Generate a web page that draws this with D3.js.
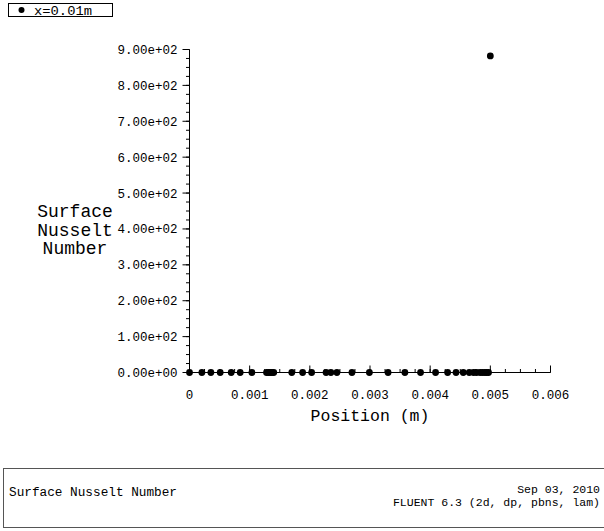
<!DOCTYPE html>
<html><head><meta charset="utf-8">
<script src="https://cdn.jsdelivr.net/npm/d3@7"></script>
<style>
body{margin:0;background:#fff;}
text{font-family:"Liberation Mono","DejaVu Sans Mono",monospace;fill:#000;}
</style></head>
<body><svg id="chart" width="604" height="531"></svg>
<script>
const positions = [0, 0.000206, 0.000355, 0.00051, 0.000693, 0.000842, 0.001037, 0.00128, 0.00131, 0.00134, 0.00137, 0.0014, 0.0017, 0.00188, 0.00203, 0.00227, 0.00235, 0.00245, 0.0027, 0.00299, 0.0033, 0.00358, 0.00384, 0.00409, 0.00429, 0.00443, 0.00455, 0.00465, 0.00472, 0.00477, 0.00483, 0.00487, 0.00491, 0.00494, 0.00497, 0.005];
const nusselt = [0,0,0,0,0,0,0,0,0,0,0,0,0,0,0,0,0,0,0,0,0,0,0,0,0,0,0,0,0,0,0,0,0,0,0,882];
const xTicks = [0, 0.001, 0.002, 0.003, 0.004, 0.005, 0.006];
const xTickLabels = ["0", "0.001", "0.002", "0.003", "0.004", "0.005", "0.006"];
const yTicks = [0, 100, 200, 300, 400, 500, 600, 700, 800, 900];
const yTickLabels = ["0.00e+00","1.00e+02","2.00e+02","3.00e+02","4.00e+02","5.00e+02","6.00e+02","7.00e+02","8.00e+02","9.00e+02"];
const legendLabel = "x=0.01m";
const yTitle = ["Surface", "Nusselt", "Number"];
const xTitle = "Position (m)";
const footerLeft = "Surface Nusselt Number";
const footerRight = ["Sep 03, 2010", "FLUENT 6.3 (2d, dp, pbns, lam)"];

const svg = d3.select("#chart");
const x = d3.scaleLinear().domain([0, 0.006]).range([189.5, 550.5]);
const y = d3.scaleLinear().domain([0, 900]).range([372.5, 49.5]);

const xMinor = d3.range(0, 0.006 + 1e-9, 0.00025);
const yMinor = d3.range(0, 900 + 1e-6, 25);

// X axis (ticks upward)
const gx = svg.append("g").attr("transform", `translate(0,${y(0)})`);
gx.append("line").attr("x1", x(0)).attr("x2", x(0.006)).attr("stroke", "#000");
gx.selectAll("line.minor").data(xMinor).join("line").attr("class","minor")
  .attr("x1", d => x(d)).attr("x2", d => x(d)).attr("y1", 0).attr("y2", -3.5).attr("stroke", "#000");
gx.selectAll("line.major").data(xTicks).join("line").attr("class","major")
  .attr("x1", d => x(d)).attr("x2", d => x(d)).attr("y1", 0).attr("y2", -7).attr("stroke", "#000");
gx.selectAll("text").data(xTicks).join("text")
  .attr("x", d => x(d)).attr("y", 26).attr("text-anchor", "middle")
  .attr("font-size", 12.5)
  .text((d, i) => xTickLabels[i]);

// Y axis (ticks left)
const gy = svg.append("g").attr("transform", `translate(${x(0)},0)`);
gy.append("line").attr("y1", y(0)).attr("y2", y(900)).attr("stroke", "#000");
gy.selectAll("line.minor").data(yMinor).join("line").attr("class","minor")
  .attr("y1", d => y(d)).attr("y2", d => y(d)).attr("x1", 0).attr("x2", -3.5).attr("stroke", "#000");
gy.selectAll("line.major").data(yTicks).join("line").attr("class","major")
  .attr("y1", d => y(d)).attr("y2", d => y(d)).attr("x1", 0).attr("x2", -7).attr("stroke", "#000");
gy.selectAll("text").data(yTicks).join("text")
  .attr("x", -12).attr("y", d => y(d) + 4.5).attr("text-anchor", "end")
  .attr("font-size", 12.5)
  .text((d, i) => yTickLabels[i]);

// Axis titles
svg.selectAll("text.ytitle").data(yTitle).join("text").attr("class","ytitle")
  .attr("x", 75).attr("y", (d, i) => 217 + i * 18.5).attr("text-anchor", "middle")
  .attr("font-size", 18).text(d => d);
svg.append("text").attr("x", x(0.003)).attr("y", 421).attr("text-anchor", "middle")
  .attr("font-size", 16.5).text(xTitle);

// Points
svg.selectAll("circle.pt").data(positions).join("circle").attr("class","pt")
  .attr("cx", d => x(d)).attr("cy", (d, i) => y(nusselt[i])).attr("r", 3.4).attr("fill", "#000");

// Legend
svg.append("rect").attr("x", 8.5).attr("y", 3.5).attr("width", 104).attr("height", 13)
  .attr("fill", "none").attr("stroke", "#000");
svg.append("circle").attr("cx", 21.5).attr("cy", 10).attr("r", 3).attr("fill", "#000");
svg.append("text").attr("x", 34).attr("y", 14.5).attr("font-size", 12)
  .attr("textLength", 58).attr("lengthAdjust", "spacingAndGlyphs").text(legendLabel);

// Footer box
svg.append("rect").attr("x", 3.5).attr("y", 468.5).attr("width", 610).attr("height", 59)
  .attr("fill", "none").attr("stroke", "#555");
svg.append("text").attr("x", 9).attr("y", 496).attr("font-size", 12)
  .attr("textLength", 168).attr("lengthAdjust", "spacingAndGlyphs").text(footerLeft);
svg.selectAll("text.fr").data(footerRight).join("text").attr("class","fr")
  .attr("x", 600).attr("y", (d, i) => 493 + i * 13).attr("text-anchor", "end")
  .attr("font-size", 11.5).text(d => d);
</script></body></html>
